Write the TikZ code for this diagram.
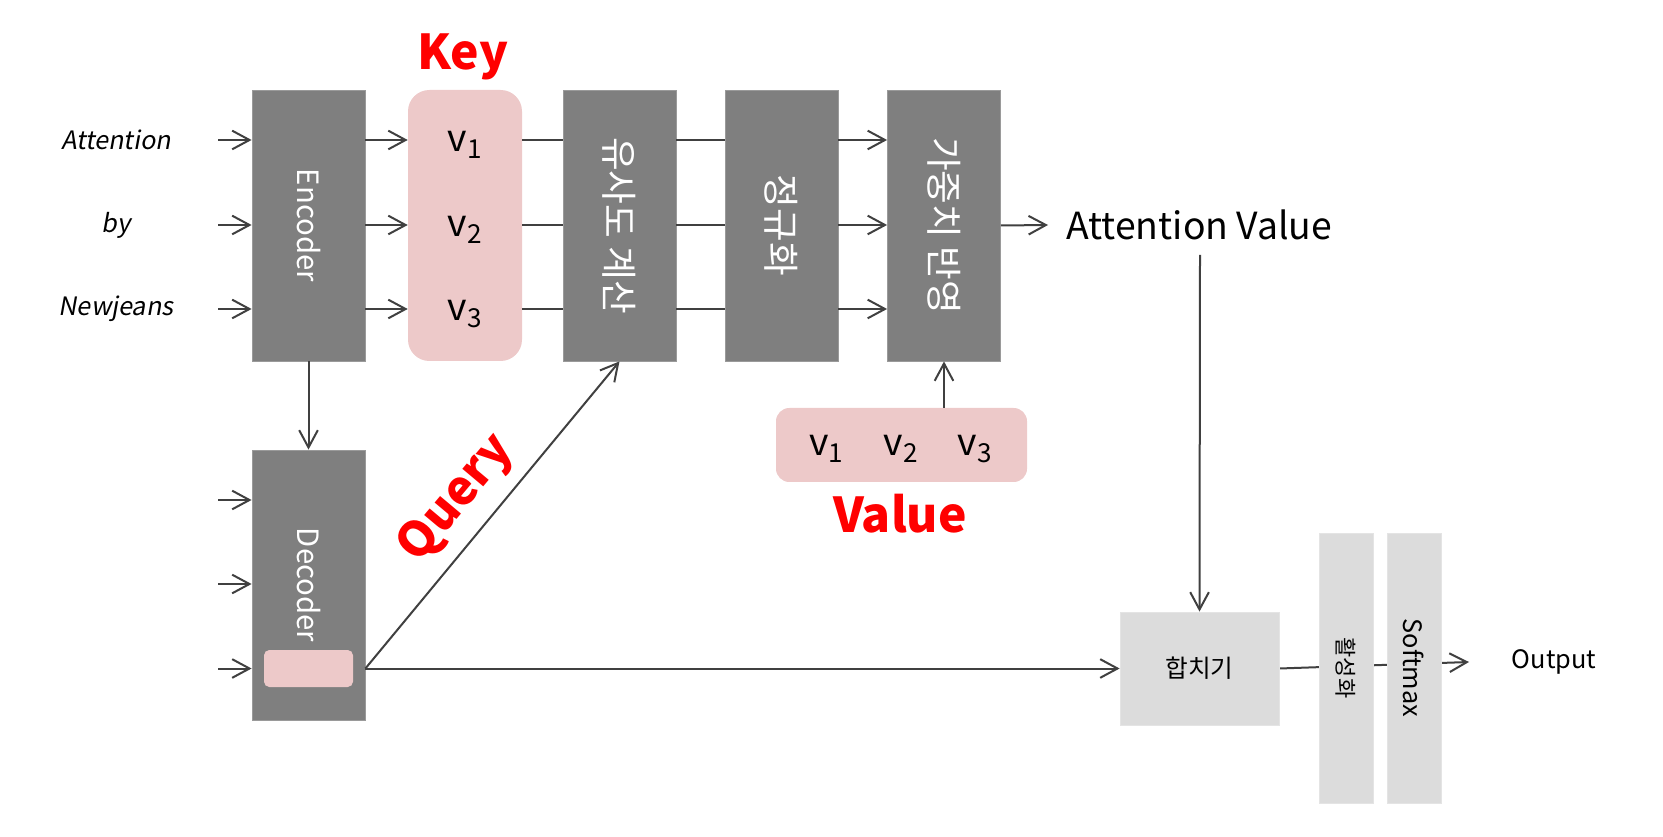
\documentclass[tikz,border=0pt]{standalone}
\usepackage{fontspec}
\setmainfont{Noto Sans CJK KR}
\newfontfamily\itfont[FakeSlant=0.18]{Noto Sans CJK KR}
\usetikzlibrary{arrows.meta,backgrounds}
\definecolor{dk}{HTML}{7F7F7F}
\definecolor{dkb}{HTML}{9A9A9A}
\definecolor{pk}{HTML}{EDC9C9}
\definecolor{lg}{HTML}{DCDCDC}
\definecolor{lgb}{HTML}{E4E4E4}
\definecolor{ln}{HTML}{404040}
\definecolor{rd}{HTML}{FF0000}
\newcommand{\fs}[1]{\fontsize{#1}{#1}\selectfont}
\begin{document}
\begin{tikzpicture}[x=0.75pt,y=-0.75pt,
  darkbox/.style={fill=dk,draw=dkb,line width=0.6pt,minimum width=84.75pt,minimum height=203.25pt,inner sep=0pt},
  pinkbox/.style={fill=pk,draw=none,rounded corners=16pt,minimum width=85.5pt,minimum height=203.25pt,inner sep=0pt},
  greybox/.style={fill=lg,draw=lgb,line width=0.6pt,inner sep=0pt},
  vtext/.style={rotate=-90,text=white,inner sep=0pt},
  btext/.style={rotate=-90,text=black,inner sep=0pt},
  redlabel/.style={text=rd,font=\bfseries\fs{36pt},inner sep=0pt},
  inlabel/.style={font=\itfont\fs{19pt},inner sep=0pt},
  vlab/.style={font=\fs{28pt},inner sep=0pt},
  arr/.style={draw=ln,line width=1.5pt,-{Straight Barb[length=13pt,width=14pt,line width=1.5pt]}},
  plain/.style={draw=ln,line width=1.5pt}
]
\useasboundingbox (0,0) rectangle (1663,837);
% rows
\coordinate (r1) at (0,140);
\coordinate (r2) at (0,225);
\coordinate (r3) at (0,309);
% top boxes
\node[darkbox] (enc) at (308.5,225.5) {};
\node[vtext,font=\fs{22pt}] (enct) at (enc.center) {Encoder};
\node[pinkbox] (key) at (465,225.5) {};
\node[darkbox] (sim) at (619.5,225.5) {};
\node[vtext,font=\fs{27.5pt}] (simt) at (sim.center) {유사도 계산};
\node[darkbox] (nrm) at (781.5,225.5) {};
\node[vtext,font=\fs{27.5pt}] (nrmt) at (nrm.center) {정규화};
\node[darkbox] (wt) at (944,225.5) {};
\node[vtext,font=\fs{27.5pt}] (wtt) at (wt.center) {가중치 반영};
% key contents
\node[vlab] (k1) at (465,145) {v\textsubscript{1}};
\node[vlab] (k2) at (465,230) {v\textsubscript{2}};
\node[vlab] (k3) at (465,314) {v\textsubscript{3}};
\node[redlabel] (keyl) at (463,57) {Key};
% input labels
\node[inlabel] (in1) at (116,140) {Attention};
\node[inlabel] (in2) at (116,225) {by};
\node[inlabel] (in3) at (116,309) {Newjeans};
\coordinate (a1) at (218,140);
\coordinate (a2) at (218,225);
\coordinate (a3) at (218,309);
\foreach \i in {1,2,3} {
  \draw[arr] (a\i) -- (a\i -| enc.west);
  \draw[arr] (enc.east |- r\i) -- (key.west |- r\i);
  \draw[plain] (key.east |- r\i) -- (sim.west |- r\i);
  \draw[plain] (sim.east |- r\i) -- (nrm.west |- r\i);
  \draw[arr] (nrm.east |- r\i) -- (wt.west |- r\i);
}
% attention value
\node[anchor=west,inner xsep=13.5pt,inner ysep=0pt,font=\fs{28pt}] (av) at (1048,225) {Attention Value};
\draw[arr] (wt.east) -- (av.west);
% decoder
\node[darkbox,minimum height=202.5pt] (dec) at (308.5,585) {};
\node[vtext,font=\fs{22pt}] (dect) at (308.5,585) {Decoder};
\node[fill=pk,rounded corners=4pt,minimum width=66.75pt,minimum height=27.75pt,inner sep=0pt] (dq) at (308.5,668.5) {};
\draw[arr] (enc.south) -- (dec.north);
\coordinate (d1) at (218,500);
\coordinate (d2) at (218,584);
\coordinate (d3) at (218,668.5);
\foreach \i in {1,2,3} {
  \draw[arr] (d\i) -- (d\i -| dec.west);
}
\draw[arr] (dec.east |- dq) -- (sim.south);
\node[redlabel,rotate=50] (ql) at (457,499) {Query};
% value box
\node[fill=pk,rounded corners=10pt,minimum width=188.25pt,minimum height=55.5pt,inner sep=0pt] (val) at (901.5,445) {};
\node[vlab] (w1) at (826.5,449) {v\textsubscript{1}};
\node[vlab] (w2) at (901,449) {v\textsubscript{2}};
\node[vlab] (w3) at (975,449) {v\textsubscript{3}};
\draw[arr] (val.north -| wt) -- (wt.south);
\node[redlabel] (vall) at (900,514) {Value};
% bottom right
\node[greybox,minimum width=119.25pt,minimum height=84.75pt] (mrg) at (1199.5,668.5) {};
\node[inner sep=0pt,font=\fs{18.5pt}] (mrgt) at (mrg.center) {합치기};
\node[greybox,minimum width=40.5pt,minimum height=202.5pt] (act) at (1346,668) {};
\node[btext,font=\fs{16.5pt}] (actt) at (act.center) {활성화};
\node[greybox,minimum width=40.5pt,minimum height=202.5pt] (smx) at (1414,668) {};
\node[btext,font=\fs{19pt}] (smxt) at (smx.center) {Softmax};
\node[inner sep=0pt,font=\fs{19pt}] (out) at (1554,662) {Output};
\coordinate (avb) at (1200,255);
\coordinate (oe) at (1469,662);
\draw[arr] (avb) -- (mrg.north);
\draw[arr] (dec.east |- dq) -- (mrg.west);
\begin{scope}[on background layer]
\draw[arr] (mrg.east) -- (oe);
\end{scope}
\end{tikzpicture}
\end{document}
